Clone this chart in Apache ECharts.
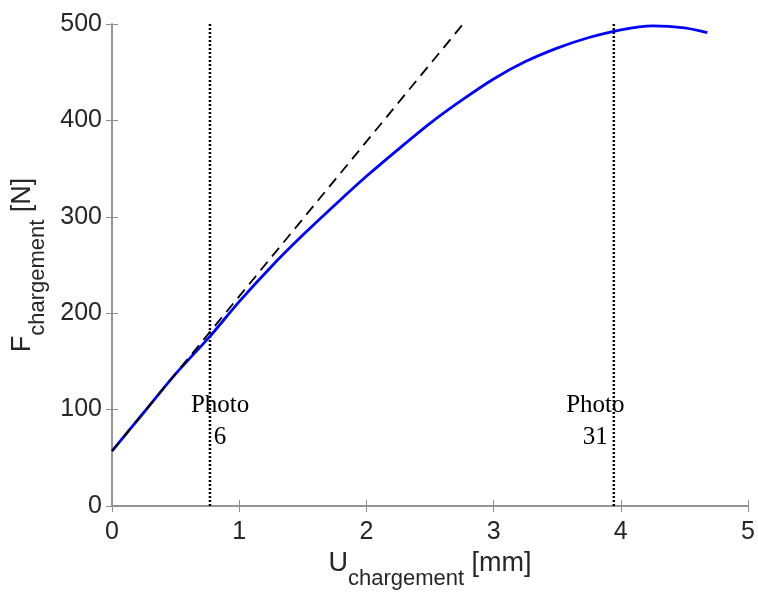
<!DOCTYPE html>
<html>
<head>
<meta charset="utf-8">
<script src="https://cdn.jsdelivr.net/npm/echarts@6/dist/echarts.min.js"></script>
<style>
  html, body { margin: 0; padding: 0; background: #fff; }
  #chart { width: 758px; height: 592px; }
</style>
</head>
<body>
<div id="chart"></div>
<script>
// courbe mesuree
var uVals = [0, 0.25, 0.5, 0.77, 1.0, 1.25, 1.5, 1.75, 2.0, 2.25, 2.5, 2.75, 3.0, 3.25, 3.5, 3.75, 4.0, 4.25, 4.5, 4.68];
var fVals = [57, 97, 137, 176, 212, 248, 281, 312, 342, 370, 397, 421, 443, 461, 475, 486, 494, 498, 496, 491];
// droite elastique (tirets)
var elasticU = [0, 2.76];
var elasticF = [57, 500];
// photos
var photoU = [0.77, 3.945];
var photoText = ['Photo\n6', 'Photo\n31'];
var photoLabelU = [0.85, 3.80];
var photoLabelF = [88, 88];
var xTicks = [0, 1, 2, 3, 4, 5];
var yTicks = [0, 100, 200, 300, 400, 500];

var zip = function (a, b) { return a.map(function (v, i) { return [v, b[i]]; }); };

var chart = echarts.init(document.getElementById('chart'));

var axisColor = '#8f8f8f';
var textColor = '#262626';
var sansFont = '"Liberation Sans", Arial, sans-serif';

var series = [
  {
    type: 'line',
    data: zip(uVals, fVals),
    smooth: 0.3,
    showSymbol: false,
    lineStyle: { color: '#0000ff', width: 2.8 },
    z: 3
  },
  {
    type: 'line',
    data: zip(elasticU, elasticF),
    showSymbol: false,
    lineStyle: { color: '#000', width: 1.8, type: [11, 7] },
    z: 4
  }
];
photoU.forEach(function (u) {
  series.push({
    type: 'line',
    data: [[u, 0], [u, 500]],
    showSymbol: false,
    lineStyle: { color: '#000', width: 2.5, type: [2, 2] },
    z: 2
  });
});
series.push({
  type: 'scatter',
  symbolSize: 0,
  itemStyle: { opacity: 1 },
  data: photoLabelU.map(function (u, i) { return [u, photoLabelF[i], photoText[i]]; }),
  label: {
    show: true,
    position: 'inside',
    formatter: function (p) { return p.data[2]; },
    fontFamily: '"Liberation Serif", "Times New Roman", serif',
    fontSize: 25,
    lineHeight: 32,
    color: '#000',
    opacity: 1,
    align: 'center'
  },
  z: 5
});

var richName = {
  a: { fontSize: 27, fontFamily: sansFont, color: textColor, verticalAlign: 'top', lineHeight: 30 },
  b: { fontSize: 22, fontFamily: sansFont, color: textColor, verticalAlign: 'top', padding: [18, 0, 0, 0], lineHeight: 24 }
};

var option = {
  animation: false,
  backgroundColor: '#fff',
  grid: { left: 112, right: 10, top: 24, bottom: 86, containLabel: false, outerBoundsMode: 'none' },
  xAxis: [
    {
      type: 'value', min: 0, max: 5, interval: 1,
      axisLine: { show: true, lineStyle: { color: axisColor, width: 1.5 } },
      axisTick: { show: true, inside: true, length: 6, lineStyle: { color: axisColor } },
      axisLabel: { color: textColor, fontSize: 25, fontFamily: sansFont, margin: 14,
        formatter: function (v) { return xTicks.indexOf(v) >= 0 ? String(v) : ''; } },
      splitLine: { show: false },
      name: '{a|U}{b|chargement}{a| [mm]}',
      nameLocation: 'middle',
      nameGap: 40,
      nameTextStyle: { rich: richName }
    },
    {
      type: 'value', min: 0, max: 5, interval: 1, position: 'top',
      axisLine: { show: true, lineStyle: { color: axisColor, width: 1.5 } },
      axisTick: { show: true, inside: true, length: 6, lineStyle: { color: axisColor } },
      axisLabel: { show: false },
      splitLine: { show: false }
    }
  ],
  yAxis: [
    {
      type: 'value', min: 0, max: 500, interval: 100,
      axisLine: { show: true, lineStyle: { color: axisColor, width: 1.5 } },
      axisTick: { show: true, inside: true, length: 6, lineStyle: { color: axisColor } },
      axisLabel: { color: textColor, fontSize: 25, fontFamily: sansFont, margin: 10,
        formatter: function (v) { return yTicks.indexOf(v) >= 0 ? String(v) : ''; } },
      splitLine: { show: false },
      name: '{a|F}{b|chargement}{a| [N]}',
      nameLocation: 'middle',
      nameRotate: 90,
      nameGap: 72,
      nameTextStyle: { rich: richName }
    },
    {
      type: 'value', min: 0, max: 500, interval: 100, position: 'right',
      axisLine: { show: true, lineStyle: { color: axisColor, width: 1.5 } },
      axisTick: { show: true, inside: true, length: 6, lineStyle: { color: axisColor } },
      axisLabel: { show: false },
      splitLine: { show: false }
    }
  ],
  series: series
};

chart.setOption(option);
</script>
</body>
</html>
